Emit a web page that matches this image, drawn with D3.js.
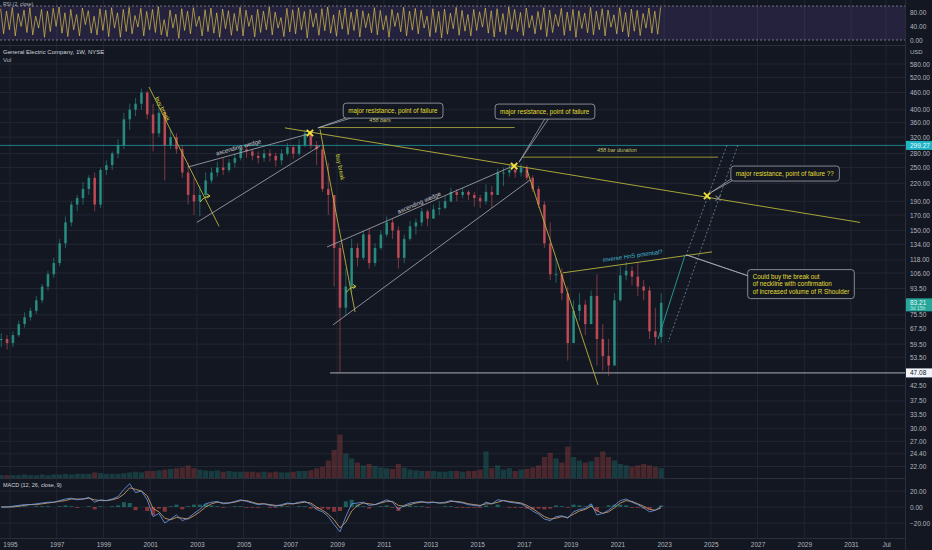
<!DOCTYPE html>
<html>
<head>
<meta charset="utf-8">
<script src="https://cdn.jsdelivr.net/npm/d3@7"></script>
<style>
    body { margin: 0; background: #131722; }
    svg text { font-family: "Liberation Sans", Arial, sans-serif; }
</style>
</head>
<body>
<div id="chart"></div>
<script>
// ---- DATA (quarterly, 1994 Q3 .. 2022 Q4) ----
var firstQuarter = 1994.5;

var closes = [62, 60,
    64, 70, 74, 78,  85, 95, 105, 115,  135, 160, 185, 195,  210, 230, 185, 245,
    255, 280, 300, 370,  400, 420, 460, 385,  330, 390, 300, 320,  290, 240, 200, 190,
    200, 225, 240, 250,  245, 260, 270, 290,  285, 275, 270, 280,  275, 265, 280, 295,
    280, 300, 330, 300,  290, 210, 200, 130,  80, 95, 130, 120,  145, 115, 130, 145,
    160, 150, 120, 140,  155, 160, 175, 165,  178, 180, 190, 205,  200, 205, 200, 195,
    190, 205, 200, 240,  240, 245, 240, 250,  230, 210, 185, 135,  105, 105, 90, 60,
    78, 82, 70, 88,  62, 54, 50, 85,  104, 108, 103, 95,  92, 66, 63, 83.21];

var highs = [65, 64,
    66, 72, 77, 80,  88, 97, 108, 120,  140, 168, 190, 200,  222, 235, 240, 250,
    265, 285, 315, 390,  420, 440, 475, 465,  420, 410, 400, 340,  330, 300, 260, 230,
    215, 240, 250, 262,  270, 268, 280, 300,  295, 290, 285, 290,  290, 282, 290, 305,
    300, 315, 340, 335,  310, 300, 260, 200,  135, 110, 140, 135,  150, 152, 135, 150,
    168, 165, 155, 145,  162, 165, 180, 178,  185, 190, 198, 212,  210, 212, 208, 205,
    200, 218, 215, 248,  250, 255, 258, 258,  255, 235, 215, 190,  160, 120, 110, 95,
    85, 90, 85, 92,  105, 70, 62, 90,  112, 116, 112, 115,  100, 95, 80, 90];

var lows = [58, 57,
    58, 63, 68, 72,  76, 83, 92, 102,  112, 130, 155, 175,  185, 200, 175, 180,
    235, 245, 270, 290,  340, 380, 400, 370,  285, 320, 225, 290,  280, 230, 185, 170,
    168, 195, 220, 232,  235, 240, 250, 265,  270, 265, 258, 262,  262, 252, 255, 275,
    268, 275, 295, 290,  255, 205, 170, 95,  47, 75, 90, 112,  118, 110, 112, 128,
    142, 140, 110, 115,  138, 145, 155, 155,  165, 170, 178, 188,  190, 195, 192, 182,
    180, 185, 180, 200,  215, 232, 230, 232,  225, 205, 180, 130,  100, 98, 85, 52,
    60, 72, 64, 70,  50, 48, 46, 50,  84, 100, 96, 88,  85, 62, 59, 60];

var volumes = [4, 4,
    4, 4, 5, 4,  4, 5, 4, 5,  5, 6, 5, 6,  6, 6, 8, 7,
    6, 6, 6, 7,  8, 9, 8, 10,  10, 11, 12, 13,  14, 15, 18, 14,
    12, 11, 10, 11,  9, 10, 9, 9,  9, 9, 8, 9,  8, 9, 8, 8,
    9, 10, 10, 11,  14, 16, 25, 40,  62, 35, 28, 22,  18, 20, 17, 15,
    14, 13, 20, 15,  12, 11, 10, 10,  10, 9, 9, 10,  10, 9, 10, 10,
    12, 38, 14, 18,  12, 14, 10, 12,  13, 15, 18, 30,  36, 28, 22, 45,
    30, 25, 22, 24,  30, 38, 30, 25,  20, 18, 16, 18,  20, 18, 16, 14];

var macdLine = [0, 0,
    1, 2, 3, 3,  4, 5, 6, 6,  8, 10, 11, 9,  10, 12, 6, 9,
    8, 10, 13, 22,  29, 18, 20, 9,  -12, -8, -20, -15,  -10, -17, -14, -8,
    -3, 4, 6, 7,  4, 5, 7, 9,  7, 5, 3, 4,  2, 1, 3, 5,
    4, 6, 7, 3,  -3, -6, -12, -22,  -31, -12, 4, 5,  6, 2, 3, 6,
    9, 6, -3, 2,  5, 6, 7, 5,  6, 5, 6, 8,  6, 5, 3, 2,
    1, 6, 4, 9,  8, 6, 5, 4,  0, -5, -9, -15,  -17, -12, -11, -14,
    -6, -3, -2, 4,  -10, -8, -4, 2,  8, 10, 6, 3,  -1, -6, -4, 1];

var signalLine = [0, 0,
    0, 1, 2, 3,  3, 4, 5, 6,  7, 8, 10, 10,  10, 11, 9, 8,
    8, 9, 11, 16,  24, 22, 20, 14,  -2, -6, -14, -16,  -13, -14, -15, -11,
    -6, 0, 4, 6,  5, 5, 6, 8,  8, 6, 4, 4,  3, 2, 2, 4,
    4, 5, 6, 5,  0, -4, -9, -16,  -26, -19, -5, 2,  5, 4, 3, 5,
    7, 7, 2, 1,  3, 5, 6, 6,  6, 5, 5, 7,  7, 6, 4, 3,
    2, 4, 4, 6,  8, 7, 6, 5,  2, -2, -7, -12,  -15, -14, -12, -13,
    -9, -5, -3, 1,  -5, -8, -6, -1,  5, 8, 7, 4,  1, -3, -4, -1];

// top oscillator, one value every 1/8 year
var rsiStart = 1994.6;
var rsiStep = 0.125;
var rsiValues = [
    92, 18, 85, 30, 96, 12, 78, 40,
    88, 22, 95, 15, 70, 35, 90, 8,
    85, 25, 93, 40, 97, 20, 80, 10,
    90, 30, 75, 12, 94, 45, 86, 20,
    70, 15, 92, 28, 88, 10, 95, 35,
    80, 8, 90, 25, 96, 18, 72, 38,
    93, 12, 84, 30, 90, 22, 98, 15,
    60, 10, 88, 35, 76, 5, 92, 28,
    85, 18, 95, 40, 70, 12, 89, 25,
    94, 20, 80, 8, 91, 33, 86, 14,
    78, 26, 96, 12, 88, 40, 73, 9,
    90, 22, 85, 30, 97, 15, 82, 35,
    66, 10, 93, 24, 89, 18, 95, 30,
    84, 6, 90, 38, 79, 14, 92, 27,
    97, 20, 74, 11, 88, 32, 94, 16,
    82, 28, 91, 9, 86, 36, 78, 21,
    95, 15, 87, 30, 72, 8, 90, 40,
    80, 24, 96, 12, 85, 29, 93, 18,
    88, 35, 70, 10, 92, 22, 84, 6,
    91, 17, 79, 33, 96, 14, 87, 26,
    75, 12, 90, 28, 83, 38, 94, 20,
    86, 9, 92, 24, 78, 16, 97, 31,
    90, 25, 81, 13, 94, 36, 72, 18,
    84, 30, 95, 10, 88, 22, 76, 40,
    93, 14, 82, 27, 90, 8, 86, 34,
    79, 21, 96, 15, 85, 30, 92, 12,
    88, 38, 74, 18, 95, 24, 81, 9,
    91, 26, 87, 13, 78, 35, 94, 20,
    85, 17, 96];

// ticks
var priceTicks = [580, 520, 460, 400, 360, 320, 280, 250, 220, 190, 170, 150, 134, 118, 106, 93.5,
    75.5, 67.5, 59.5, 53.5, 42.5, 37.5, 33.5, 30, 27, 24.4, 22];
var macdTicks = [20, 0, -20];
var rsiTicks = [80, 40, 0];
var yearTicks = [1995, 1997, 1999, 2001, 2003, 2005, 2007, 2009, 2011, 2013, 2015, 2017, 2019,
    2021, 2023, 2025, 2027, 2029, 2031, 2032.5];
var yearLabels = ["1995", "1997", "1999", "2001", "2003", "2005", "2007", "2009", "2011", "2013",
    "2015", "2017", "2019", "2021", "2023", "2025", "2027", "2029", "2031", "Jul"];

// drawings, points are [year, price]
var yellowLines = [
    [[2000.95, 481], [2003.95, 155]],
    [[2008.27, 341], [2009.77, 77.3]],
    [[2006.77, 345], [2031.39, 160]],
    [[2018.67, 106.2], [2025.05, 125.9]],
    [[2017.13, 245], [2020.17, 42.7]]
];
var wedgeLines = [
    [[2002.62, 251], [2007.93, 331]],
    [[2003.0, 160], [2008.27, 298]],
    [[2008.57, 131], [2016.62, 255]],
    [[2008.83, 69.6], [2017.26, 226]]
];
var durationLines = [
    {from: [2008.18, 346], to: [2016.6, 346], text: "458 bars", at: [2010.84, 362]},
    {from: [2016.96, 272], to: [2025.31, 272], text: "458 bar duration", at: [2020.98, 283]}
];
var dottedLines = [
    [[2026.16, 300], [2023.17, 60.5]],
    [[2025.69, 300], [2023.98, 125]]
];
var projection = [[2022.74, 62], [2023.9, 123]];
var markers = [[2007.84, 331], [2016.58, 253], [2024.84, 198.5]];
var callouts = [
    {text: ["major resistance, point of failure"], at: [2011.4, 397], from: [2008.18, 345], to: [2009.55, 377]},
    {text: ["major resistance, point of failure"], at: [2017.9, 394], from: [2016.79, 261], to: [2017.99, 375]},
    {text: ["major resistance, point of failure ??"], at: [2028.18, 238], from: [2025.0, 204], to: [2026.04, 231]},
    {text: ["Could buy the break out", "of neckline with confirmation", "of increased volume of R Shoulder"],
        at: [2028.86, 96.9], from: [2023.94, 123], to: [2026.68, 103.5]}
];
var lineTexts = [
    {text: "buy break", line: 0, group: "yellow", at: [2001.45, 400], color: "#d6d23c"},
    {text: "buy break", line: 1, group: "yellow", at: [2009.05, 250], color: "#d6d23c"},
    {text: "ascending wedge", line: 0, group: "wedge", at: [2004.8, 290], color: "#c8cad0"},
    {text: "ascending wedge", line: 2, group: "wedge", at: [2012.55, 185], color: "#c8cad0"},
    {text: "inverse HnS potential?", line: 3, group: "yellow", at: [2021.67, 120], color: "#3fb6cc"}
];
var hooks = [[2003.35, 192], [2009.6, 92]];
var lastPrice = 83.21;
var lowLevel = 47.08;
var lowLevelStart = 2008.7;
var markLevel = 299.27;

// STEP 1: SET UP THE CANVAS
var svgWidth = 932;
var svgHeight = 550;
var plotRight = 905;

var svg = d3.select("#chart")
    .append("svg")
    .attr("width", svgWidth)
    .attr("height", svgHeight);

svg.append("rect")
    .attr("width", svgWidth)
    .attr("height", svgHeight)
    .attr("fill", "#131722");

// STEP 2: scales
var xScale = d3.scaleLinear().domain([1995, 2031]).range([10, 851]);
var yScale = d3.scaleLog().domain([22, 580]).range([466.5, 64]);
var rsiScale = d3.scaleLinear().domain([0, 100]).range([40, 6]);
var macdScale = d3.scaleLinear().domain([-20, 20]).range([523, 491]);
var volScale = d3.scaleLinear().domain([0, 100]).range([478, 408]);

var qTime = (d, i) => firstQuarter + i * 0.25 + 0.125;
var px = p => xScale(p[0]);
var py = p => yScale(p[1]);

var defs = svg.append("defs");
defs.append("clipPath").attr("id", "mainClip")
    .append("rect").attr("x", 0).attr("y", 46).attr("width", plotRight).attr("height", 432);
defs.append("clipPath").attr("id", "macdClip")
    .append("rect").attr("x", 0).attr("y", 479).attr("width", plotRight).attr("height", 58);

// STEP 3: grid
var gridColor = "#222633";
svg.append("g").selectAll("line")
    .data(yearTicks)
    .enter()
    .append("line")
    .attr("x1", d => xScale(d)).attr("x2", d => xScale(d))
    .attr("y1", 0).attr("y2", 538)
    .attr("stroke", gridColor).attr("stroke-width", 1);

svg.append("g").selectAll("line")
    .data(priceTicks)
    .enter()
    .append("line")
    .attr("x1", 0).attr("x2", plotRight)
    .attr("y1", d => yScale(d)).attr("y2", d => yScale(d))
    .attr("stroke", gridColor).attr("stroke-width", 1);

svg.append("g").selectAll("line")
    .data(macdTicks)
    .enter()
    .append("line")
    .attr("x1", 0).attr("x2", plotRight)
    .attr("y1", d => macdScale(d)).attr("y2", d => macdScale(d))
    .attr("stroke", gridColor).attr("stroke-width", 1);

// STEP 4: RSI pane
svg.append("rect")
    .attr("x", 0).attr("y", rsiScale(100))
    .attr("width", plotRight).attr("height", rsiScale(0) - rsiScale(100))
    .attr("fill", "#7e57c2").attr("fill-opacity", 0.17);

svg.append("g").selectAll("line")
    .data([100, 0])
    .enter()
    .append("line")
    .attr("x1", 0).attr("x2", plotRight)
    .attr("y1", d => rsiScale(d)).attr("y2", d => rsiScale(d))
    .attr("stroke", "#8a8d96").attr("stroke-width", 0.8).attr("stroke-dasharray", "2,2");

svg.append("path")
    .datum(rsiValues)
    .attr("d", d3.line().x((d, i) => xScale(rsiStart + i * rsiStep)).y(d => rsiScale(d)))
    .attr("fill", "none")
    .attr("stroke", "#d9bf4c")
    .attr("stroke-width", 0.7);

svg.append("text").attr("x", 3).attr("y", 6).attr("font-size", 5).attr("fill", "#b2b5be")
    .text("RSI (2, close)");

// STEP 5: volume
var volGroup = svg.append("g").attr("clip-path", "url(#mainClip)");
volGroup.selectAll("rect")
    .data(volumes)
    .enter()
    .append("rect")
    .attr("x", (d, i) => xScale(qTime(d, i)) - 2.6)
    .attr("width", 5.2)
    .attr("y", d => volScale(d))
    .attr("height", d => volScale(0) - volScale(d))
    .attr("fill", (d, i) => (i === 0 || closes[i] >= closes[i - 1]) ? "#26a69a" : "#ef5350")
    .attr("fill-opacity", 0.25);

// STEP 6: reference levels
svg.append("line")
    .attr("x1", 0).attr("x2", plotRight)
    .attr("y1", yScale(markLevel)).attr("y2", yScale(markLevel))
    .attr("stroke", "#22b8c9").attr("stroke-width", 0.8).attr("stroke-opacity", 0.8);

svg.append("line")
    .attr("x1", xScale(lowLevelStart)).attr("x2", plotRight)
    .attr("y1", yScale(lowLevel)).attr("y2", yScale(lowLevel))
    .attr("stroke", "#d1d4dc").attr("stroke-width", 0.8);

// STEP 7: candles
var candleGroup = svg.append("g").attr("clip-path", "url(#mainClip)");
var candleColor = (d, i) => (i === 0 || closes[i] >= closes[i - 1]) ? "#2a9d8f" : "#d6515c";

candleGroup.selectAll("line.wick")
    .data(closes)
    .enter()
    .append("line")
    .attr("class", "wick")
    .attr("x1", (d, i) => xScale(qTime(d, i)))
    .attr("x2", (d, i) => xScale(qTime(d, i)))
    .attr("y1", (d, i) => yScale(highs[i]))
    .attr("y2", (d, i) => yScale(lows[i]))
    .attr("stroke", candleColor)
    .attr("stroke-width", 0.7)
    .attr("stroke-opacity", 0.8);

candleGroup.selectAll("rect.body")
    .data(closes)
    .enter()
    .append("rect")
    .attr("class", "body")
    .attr("x", (d, i) => xScale(qTime(d, i)) - 1.3)
    .attr("width", 2.6)
    .attr("y", (d, i) => yScale(Math.max(d, i === 0 ? d : closes[i - 1])))
    .attr("height", (d, i) => Math.max(1, Math.abs(yScale(d) - yScale(i === 0 ? d : closes[i - 1]))))
    .attr("fill", candleColor)
    .attr("fill-opacity", 0.8);

// STEP 8: drawings
var drawGroup = svg.append("g").attr("clip-path", "url(#mainClip)");

function segment(g, pts, color, width, dash) {
    return g.append("line")
        .attr("x1", px(pts[0])).attr("y1", py(pts[0]))
        .attr("x2", px(pts[1])).attr("y2", py(pts[1]))
        .attr("stroke", color).attr("stroke-width", width)
        .attr("stroke-dasharray", dash || null);
}

yellowLines.forEach(function(l) {
    segment(drawGroup, l, "#b8b43c", 0.9);
});
wedgeLines.forEach(function(l) {
    segment(drawGroup, l, "#a9acb5", 0.8);
});
dottedLines.forEach(function(l) {
    segment(drawGroup, l, "#6f86a8", 0.8, "2,2");
});
segment(drawGroup, projection, "#26a69a", 0.9);

durationLines.forEach(function(d) {
    segment(drawGroup, [d.from, d.to], "#a5a23a", 0.9);
    drawGroup.append("text")
        .attr("x", px(d.at)).attr("y", py(d.at))
        .attr("text-anchor", "middle")
        .attr("font-size", 5.5).attr("font-style", "italic")
        .attr("fill", "#c9c46a")
        .text(d.text);
});

lineTexts.forEach(function(t) {
    var l = (t.group === "yellow" ? yellowLines : wedgeLines)[t.line];
    var ang = Math.atan2(py(l[1]) - py(l[0]), px(l[1]) - px(l[0])) * 180 / Math.PI;
    drawGroup.append("text")
        .attr("transform", `translate(${px(t.at)}, ${py(t.at)}) rotate(${ang})`)
        .attr("text-anchor", "middle")
        .attr("font-size", 6)
        .attr("fill", t.color)
        .text(t.text);
});

hooks.forEach(function(h) {
    var g = drawGroup.append("g").attr("transform", `translate(${px(h)}, ${py(h)})`);
    g.append("path").attr("d", "M-5,2 Q-2,-3 4,-4").attr("fill", "none")
        .attr("stroke", "#d6d23c").attr("stroke-width", 0.9);
    g.append("path").attr("d", "M2,-6 L5,-4 L2,-2").attr("fill", "none")
        .attr("stroke", "#d6d23c").attr("stroke-width", 0.9);
});

// callouts
callouts.forEach(function(c) {
    var a = [px(c.from), py(c.from)], b = [px(c.to), py(c.to)];
    drawGroup.append("line").attr("x1", a[0]).attr("y1", a[1]).attr("x2", b[0] - 1.5).attr("y2", b[1])
        .attr("stroke", "#b2b5be").attr("stroke-width", 0.7);
    drawGroup.append("line").attr("x1", a[0]).attr("y1", a[1]).attr("x2", b[0] + 1.5).attr("y2", b[1] + 1)
        .attr("stroke", "#b2b5be").attr("stroke-width", 0.7);

    var g = drawGroup.append("g");
    var cx = px(c.at), cy = py(c.at);
    var lineH = 7.5;
    var rect = g.append("rect");
    var txt = g.append("text")
        .attr("font-size", 6.3)
        .attr("fill", "#e2df34");
    c.text.forEach(function(s, i) {
        txt.append("tspan")
            .attr("x", 0)
            .attr("y", (i - (c.text.length - 1) / 2) * lineH + 2.2)
            .text(s);
    });
    var bb = txt.node().getBBox();
    txt.attr("transform", `translate(${cx - bb.width / 2}, ${cy})`);
    rect.attr("x", cx - bb.width / 2 - 5).attr("y", cy - bb.height / 2 - 3.5)
        .attr("width", bb.width + 10).attr("height", bb.height + 7)
        .attr("rx", 3)
        .attr("fill", "#131722").attr("stroke", "#a3a6af").attr("stroke-width", 0.8);
});

markers.forEach(function(m) {
    var g = drawGroup.append("g").attr("transform", `translate(${px(m)}, ${py(m)})`);
    g.append("path").attr("d", "M-3.2,-3.2 L3.2,3.2 M-3.2,3.2 L3.2,-3.2")
        .attr("stroke", "#f2e23a").attr("stroke-width", 1.8);
});
drawGroup.append("path")
    .attr("transform", `translate(${xScale(2025.31)}, ${yScale(195)})`)
    .attr("d", "M-2.5,-2.5 L2.5,2.5 M-2.5,2.5 L2.5,-2.5")
    .attr("stroke", "#7b7e86").attr("stroke-width", 1.2);

// STEP 9: MACD pane
var macdGroup = svg.append("g").attr("clip-path", "url(#macdClip)");
macdGroup.selectAll("rect")
    .data(macdLine)
    .enter()
    .append("rect")
    .attr("x", (d, i) => xScale(qTime(d, i)) - 2)
    .attr("width", 4)
    .attr("y", (d, i) => macdScale(Math.max(0, d - signalLine[i])))
    .attr("height", (d, i) => Math.abs(macdScale(d - signalLine[i]) - macdScale(0)))
    .attr("fill", (d, i) => d - signalLine[i] >= 0 ? "#26a69a" : "#ef5350")
    .attr("fill-opacity", 0.5);

macdGroup.append("path")
    .datum(signalLine)
    .attr("d", d3.line().x((d, i) => xScale(qTime(d, i))).y(d => macdScale(d)))
    .attr("fill", "none").attr("stroke", "#e0a86c").attr("stroke-width", 0.8);

macdGroup.append("path")
    .datum(macdLine)
    .attr("d", d3.line().x((d, i) => xScale(qTime(d, i))).y(d => macdScale(d)))
    .attr("fill", "none").attr("stroke", "#6ea0ee").attr("stroke-width", 0.8);

// STEP 10: pane separators
svg.append("g").selectAll("line")
    .data([45.5, 478.5, 538.5])
    .enter()
    .append("line")
    .attr("x1", 0).attr("x2", svgWidth)
    .attr("y1", d => d).attr("y2", d => d)
    .attr("stroke", "#2a2e39").attr("stroke-width", 1);

svg.append("rect").attr("x", plotRight).attr("y", 0).attr("width", svgWidth - plotRight).attr("height", svgHeight)
    .attr("fill", "#131722");
svg.append("line").attr("x1", plotRight + 0.5).attr("x2", plotRight + 0.5).attr("y1", 0).attr("y2", svgHeight)
    .attr("stroke", "#2a2e39");

// STEP 11: axes
function styleAxis(g) {
    g.select(".domain").remove();
    g.selectAll("text").attr("fill", "#b2b5be").attr("font-size", 6.5);
}

svg.append("g")
    .attr("transform", `translate(${plotRight}, 0)`)
    .call(d3.axisRight(yScale).tickValues(priceTicks).tickFormat(d3.format(".2f")).tickSize(0).tickPadding(5))
    .call(styleAxis);

svg.append("g")
    .attr("transform", `translate(${plotRight}, 0)`)
    .call(d3.axisRight(macdScale).tickValues(macdTicks).tickFormat(d3.format(".2f")).tickSize(0).tickPadding(5))
    .call(styleAxis);

svg.append("g")
    .attr("transform", `translate(${plotRight}, 0)`)
    .call(d3.axisRight(rsiScale).tickValues(rsiTicks).tickFormat(d3.format(".2f")).tickSize(0).tickPadding(5))
    .call(styleAxis);

svg.append("g")
    .attr("transform", "translate(0, 539)")
    .call(d3.axisBottom(xScale).tickValues(yearTicks).tickFormat((d, i) => yearLabels[i]).tickSize(0).tickPadding(3))
    .call(styleAxis);

// price labels on the axis
function axisTag(value, bg, fg, label) {
    var yy = yScale(value);
    svg.append("rect").attr("x", plotRight + 1).attr("y", yy - 4.5).attr("width", 26).attr("height", 9)
        .attr("fill", bg);
    svg.append("text").attr("x", plotRight + 5).attr("y", yy + 2.3).attr("font-size", 6.5).attr("fill", fg)
        .text(label);
}
axisTag(markLevel, "#1fb5c6", "#e8f8fa", "299.27");
axisTag(lowLevel, "#f0f3fa", "#131722", "47.08");
svg.append("rect").attr("x", plotRight + 1).attr("y", yScale(lastPrice) - 4.5).attr("width", 26).attr("height", 13)
    .attr("fill", "#26a69a");
svg.append("text").attr("x", plotRight + 5).attr("y", yScale(lastPrice) + 2).attr("font-size", 6.5)
    .attr("fill", "#e8f6f4").text("83.21");
svg.append("text").attr("x", plotRight + 5).attr("y", yScale(lastPrice) + 7.5).attr("font-size", 5)
    .attr("fill", "#bfe8e3").text("3d 15h");

svg.append("text").attr("x", plotRight + 5).attr("y", 54).attr("font-size", 6).attr("fill", "#b2b5be").text("USD");

// STEP 12: legends
svg.append("text").attr("x", 3).attr("y", 54).attr("font-size", 6).attr("fill", "#d1d4dc")
    .text("General Electric Company, 1W, NYSE");
svg.append("text").attr("x", 3).attr("y", 62).attr("font-size", 6).attr("fill", "#b2b5be")
    .text("Vol");
svg.append("text").attr("x", 3).attr("y", 487).attr("font-size", 5.5).attr("fill", "#d1d4dc")
    .text("MACD (12, 26, close, 9)");
</script>
</body>
</html>
